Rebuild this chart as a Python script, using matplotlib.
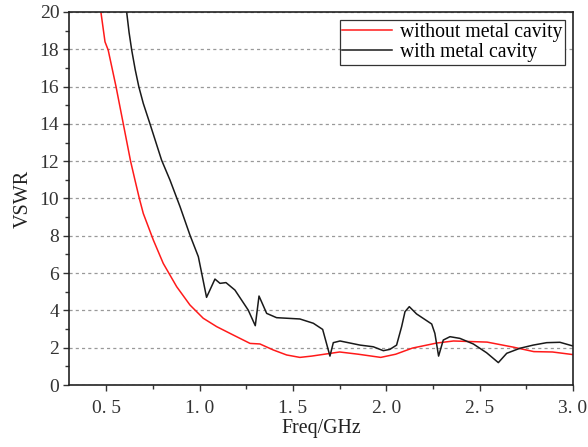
import matplotlib
matplotlib.use("Agg")
import matplotlib.pyplot as plt
from matplotlib.ticker import MultipleLocator, FixedLocator, FixedFormatter

plt.rcParams['font.family'] = ['Liberation Serif', 'DejaVu Serif']

# without metal cavity
f_red = [0.471, 0.493, 0.51, 0.552, 0.591, 0.63, 0.6535, 0.677, 0.698, 0.752, 0.805, 0.877,
         0.948, 1.019, 1.091, 1.18, 1.27, 1.323, 1.394, 1.466, 1.537, 1.60, 1.75, 1.85,
         1.97, 2.05, 2.14, 2.27, 2.36, 2.45, 2.54, 2.68, 2.79, 2.89, 3.0]
v_red = [20.0, 18.4, 17.96, 16.0, 14.0, 12.0, 10.99, 10.0, 9.2, 7.77, 6.52, 5.27,
         4.29, 3.58, 3.13, 2.68, 2.23, 2.2, 1.88, 1.61, 1.48, 1.55, 1.77, 1.65,
         1.48, 1.65, 1.98, 2.25, 2.36, 2.33, 2.3, 2.03, 1.79, 1.77, 1.63]

# with metal cavity
f_blk = [0.609, 0.622, 0.636, 0.655, 0.674, 0.698, 0.734, 0.796, 0.841, 0.895, 0.948, 0.993, 1.011,
         1.037, 1.082, 1.109, 1.141, 1.189, 1.26, 1.298, 1.318, 1.359, 1.412, 1.537, 1.609,
         1.659, 1.698, 1.716, 1.752, 1.859, 1.93, 1.984, 2.019, 2.055, 2.082, 2.10, 2.123,
         2.162, 2.198, 2.243, 2.26, 2.28, 2.305, 2.341, 2.394, 2.466, 2.537, 2.60, 2.645,
         2.716, 2.787, 2.859, 2.93, 3.0]
v_blk = [20.0, 18.9, 17.96, 16.9, 16.0, 15.1, 14.0, 12.06, 10.99, 9.56, 8.04, 6.88, 5.99,
         4.70, 5.68, 5.45, 5.49, 5.09, 4.02, 3.18, 4.77, 3.84, 3.61, 3.54, 3.31,
         2.98, 1.55, 2.27, 2.36, 2.14, 2.05, 1.84, 1.91, 2.14, 3.13, 3.93, 4.2,
         3.81, 3.57, 3.27, 2.77, 1.55, 2.41, 2.59, 2.5, 2.2, 1.73, 1.2, 1.7,
         1.97, 2.14, 2.27, 2.29, 2.09]

xticks = [0.5, 1.0, 1.5, 2.0, 2.5, 3.0]
xticklabels = ["0. 5", "1. 0", "1. 5", "2. 0", "2. 5", "3. 0"]
yticks = [0, 2, 4, 6, 8, 10, 12, 14, 16, 18, 20]

fig = plt.figure(figsize=(5.88, 4.47), dpi=100)
ax = fig.add_axes([0.1173, 0.1387, 0.8572, 0.8345])

ax.plot(f_red, v_red, color='#ff1a1a', lw=1.1, label='without metal cavity')
ax.plot(f_blk, v_blk, color='#1a1a1a', lw=1.1, label='with metal cavity')

ax.set_xlim(0.3, 3.0)
ax.set_ylim(0, 20)
ax.xaxis.set_major_locator(FixedLocator(xticks))
ax.xaxis.set_major_formatter(FixedFormatter(xticklabels))
ax.xaxis.set_minor_locator(MultipleLocator(0.25))
ax.set_yticks(yticks)
ax.yaxis.set_minor_locator(MultipleLocator(1))
ax.tick_params(axis='both', which='major', direction='out', length=4, width=1,
               labelsize=14, colors='#333333', labelcolor='#333333')
ax.tick_params(axis='both', which='minor', direction='out', length=3, width=1, colors='#333333')
ax.tick_params(axis='x', pad=7)
ax.tick_params(axis='y', pad=3)
ax.grid(axis='y', which='major', linestyle=(0, (2.5, 2.5)), color='#999999', lw=0.9)
for s in ax.spines.values():
    s.set_linewidth(1.2)
    s.set_color('#222222')

ax.set_xlabel('Freq/GHz', fontsize=14.3, color='#222222', labelpad=1)
ax.set_ylabel('VSWR', fontsize=14.5, color='#222222', labelpad=5)

leg = ax.legend(loc='upper right', fontsize=14.2, frameon=True, fancybox=False,
                edgecolor='#333333', framealpha=1, borderpad=0.15, handlelength=2.5,
                handletextpad=0.4, labelspacing=0.05, borderaxespad=0.4)
leg.get_frame().set_linewidth(0.9)

fig.savefig('out.png', dpi=100)
